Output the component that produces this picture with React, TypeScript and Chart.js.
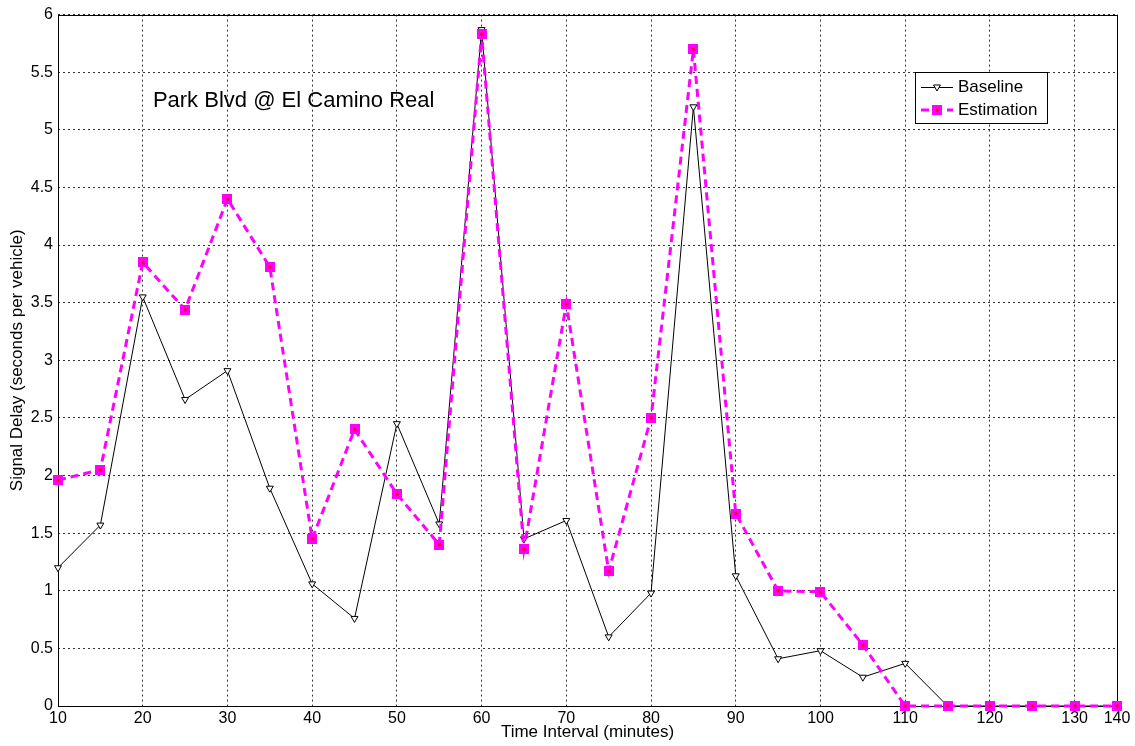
import React, { useEffect, useRef } from "react";
import { Chart, registerables } from "chart.js";

Chart.register(...registerables);

const xValues = [10, 15, 20, 25, 30, 35, 40, 45, 50, 55, 60, 65, 70, 75, 80, 85, 90, 95, 100, 105, 110, 115, 120, 125, 130, 135];
const baselineValues = [1.2, 1.57, 3.55, 2.66, 2.91, 1.89, 1.06, 0.76, 2.45, 1.58, 5.87, 1.45, 1.61, 0.6, 0.98, 5.2, 1.13, 0.41, 0.48, 0.25, 0.37, 0, 0, 0, 0, 0];
const estimationValues = [1.96, 2.05, 3.85, 3.44, 4.4, 3.81, 1.45, 2.4, 1.84, 1.4, 5.83, 1.36, 3.49, 1.17, 2.5, 5.7, 1.67, 1.0, 0.99, 0.53, 0, 0, 0, 0, 0, 0];
const xTickValues = [10, 20, 30, 40, 50, 60, 70, 80, 90, 100, 110, 120, 130, 135];
const xTickLabels = ["10", "20", "30", "40", "50", "60", "70", "80", "90", "100", "110", "120", "130", "140"];
const seriesNames = ["Baseline", "Estimation"];
const annotationText = "Park Blvd @ El Camino Real";
const xTitle = "Time Interval (minutes)";
const yTitle = "Signal Delay (seconds per vehicle)";

const FONT = "'Liberation Sans', Arial, sans-serif";
const MAGENTA = "#ff00ff";

function makeSquareMarker(): HTMLCanvasElement {
  const c = document.createElement("canvas");
  c.width = 10;
  c.height = 10;
  const ctx = c.getContext("2d")!;
  ctx.fillStyle = MAGENTA;
  ctx.fillRect(0, 0, 10, 10);
  ctx.fillStyle = "#ff0000";
  ctx.fillRect(3.5, 3.5, 3, 3);
  return c;
}

export default function App() {
  const ref = useRef<HTMLCanvasElement>(null);

  useEffect(() => {
    if (!ref.current) return;
    const square = makeSquareMarker();

    const framePlugin = {
      id: "frame",
      beforeDatasetsDraw(chart: any) {
        const { ctx, chartArea: a } = chart;
        ctx.save();
        ctx.strokeStyle = "#000";
        ctx.lineWidth = 1;
        ctx.strokeRect(Math.round(a.left) + 0.5, Math.round(a.top) + 0.5, Math.round(a.right - a.left), Math.round(a.bottom - a.top));
        ctx.restore();
      },
      afterDraw(chart: any) {
        const { ctx } = chart;
        const xs = chart.scales.x;
        const ys = chart.scales.y;
        ctx.save();
        // annotation text
        ctx.fillStyle = "#000";
        ctx.font = `22px ${FONT}`;
        ctx.textBaseline = "alphabetic";
        ctx.textAlign = "left";
        ctx.fillText(annotationText, xs.getPixelForValue(21.2), ys.getPixelForValue(5.2));

        // legend
        const bx = 915.5, by = 72.5, bw = 132, bh = 51;
        ctx.fillStyle = "#fff";
        ctx.fillRect(bx, by, bw, bh);
        ctx.strokeStyle = "#000";
        ctx.lineWidth = 1;
        ctx.strokeRect(bx, by, bw, bh);

        const r1 = 87, r2 = 110;
        // Baseline row
        ctx.beginPath();
        ctx.moveTo(921, r1 + 0.5);
        ctx.lineTo(953, r1 + 0.5);
        ctx.strokeStyle = "#000";
        ctx.stroke();
        ctx.beginPath();
        const cx = 937, tr = 4;
        ctx.moveTo(cx - tr * 0.866, r1 - tr * 0.5);
        ctx.lineTo(cx + tr * 0.866, r1 - tr * 0.5);
        ctx.lineTo(cx, r1 + tr);
        ctx.closePath();
        ctx.fillStyle = "#fff";
        ctx.fill();
        ctx.stroke();
        // Estimation row
        ctx.beginPath();
        ctx.setLineDash([8, 5]);
        ctx.lineWidth = 3;
        ctx.strokeStyle = MAGENTA;
        ctx.moveTo(921, r2);
        ctx.lineTo(953, r2);
        ctx.stroke();
        ctx.setLineDash([]);
        ctx.drawImage(square, cx - 5, r2 - 5);

        ctx.fillStyle = "#000";
        ctx.font = `17px ${FONT}`;
        ctx.textBaseline = "middle";
        ctx.fillText(seriesNames[0], 958, r1);
        ctx.fillText(seriesNames[1], 958, r2);
        ctx.restore();
      },
    };

    const chart = new Chart(ref.current, {
      type: "line",
      data: {
        datasets: [
          {
            label: seriesNames[0],
            data: xValues.map((x, i) => ({ x, y: baselineValues[i] })),
            borderColor: "#000",
            borderWidth: 1,
            pointStyle: "triangle",
            rotation: 180,
            pointRadius: 4,
            pointBackgroundColor: "#fff",
            pointBorderColor: "#000",
            pointBorderWidth: 1,
            tension: 0,
            clip: false,
            order: 1,
          } as any,
          {
            label: seriesNames[1],
            data: xValues.map((x, i) => ({ x, y: estimationValues[i] })),
            borderColor: MAGENTA,
            borderWidth: 3,
            borderDash: [8, 5],
            pointStyle: square,
            pointRadius: 5,
            tension: 0,
            clip: false,
            order: 0,
          } as any,
        ],
      },
      options: {
        animation: false,
        responsive: false,
        devicePixelRatio: 1,
        layout: { padding: { left: 0, top: 14, right: 18, bottom: 0 } },
        plugins: {
          legend: { display: false },
          tooltip: { enabled: false },
        },
        scales: {
          x: {
            type: "linear",
            min: 10,
            max: 135,
            afterBuildTicks: (scale: any) => {
              scale.ticks = xTickValues.map((v) => ({ value: v }));
            },
            afterFit: (scale: any) => {
              scale.height = 40;
            },
            ticks: {
              autoSkip: false,
              maxRotation: 0,
              minRotation: 0,
              padding: 3,
              color: "#000",
              font: { family: FONT, size: 16 },
              callback: (_v: any, i: number) => xTickLabels[i],
            },
            grid: { color: "rgba(0,0,0,0.8)", lineWidth: 1, drawTicks: false },
            border: { display: false, dash: [2, 3] },
            title: {
              display: true,
              text: xTitle,
              color: "#000",
              font: { family: FONT, size: 17 },
              padding: { top: 0, bottom: 3 },
            },
          },
          y: {
            type: "linear",
            min: 0,
            max: 6,
            afterFit: (scale: any) => {
              scale.width = 58;
            },
            ticks: {
              stepSize: 0.5,
              autoSkip: false,
              padding: 5,
              color: "#000",
              font: { family: FONT, size: 16 },
              callback: (v: any) => String(Number(v)),
            },
            grid: { color: "rgba(0,0,0,0.8)", lineWidth: 1, drawTicks: false },
            border: { display: false, dash: [2, 3] },
            title: {
              display: true,
              text: yTitle,
              color: "#000",
              font: { family: FONT, size: 17 },
              padding: { top: 7, bottom: 0 },
            },
          },
        },
      },
      plugins: [framePlugin],
    } as any);

    return () => chart.destroy();
  }, []);

  return (
    <div style={{ position: "absolute", left: 0, top: 0, width: 1135, height: 746, background: "#fff" }}>
      <canvas ref={ref} width={1135} height={746} />
    </div>
  );
}
